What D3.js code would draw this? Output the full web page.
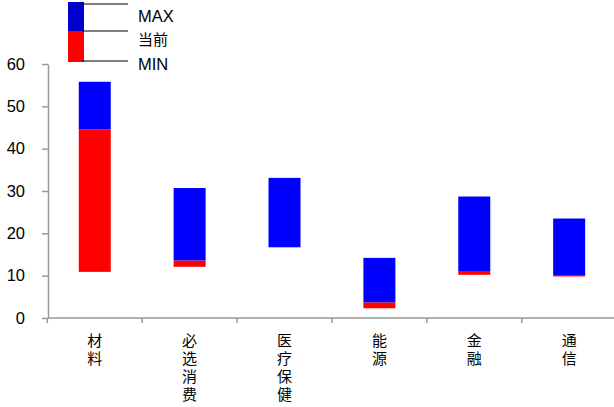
<!DOCTYPE html>
<html>
<head>
<meta charset="utf-8">
<script src="https://cdn.jsdelivr.net/npm/d3@7"></script>
<style>
  body { margin: 0; background: #fff; }
  svg { display: block; }
  .axis path, .axis line { stroke: #999; stroke-width: 1.5; }
  .axis text { font-family: "Liberation Sans", Arial, sans-serif; font-size: 16.5px; fill: #000; }
</style>
</head>
<body>
<svg id="root"></svg>
<script>
// Valuation range chart: min / current / max per sector

const categories = ["材料", "必选消费", "医疗保健", "能源", "金融", "通信"];
const minValues = [10.9, 12.1, 16.7, 2.3, 10.2, 9.8];
const curValues = [44.6, 13.6, 16.7, 3.7, 11.1, 10.0];
const maxValues = [55.8, 30.7, 33.1, 14.2, 28.7, 23.5];
const yTicks = [0, 10, 20, 30, 40, 50, 60];
const legendLabels = ["MAX", "当前", "MIN"];

const width = 614, height = 407;

const svg = d3.select("#root").attr("width", width).attr("height", height);

let xScale = d3.scaleBand(categories, [47.3, 616.6]).padding(0);
let yScale = d3.scaleLinear([0, 60], [318, 64]);

const barW = 32;

// Y axis
svg.append("g")
  .attr("class", "axis")
  .attr("transform", "translate(48,0)")
  .call(d3.axisLeft(yScale).tickValues(yTicks).tickSize(6).tickSizeOuter(0).tickPadding(17));

// X axis line + ticks at band boundaries
const xg = svg.append("g").attr("class", "axis");
xg.append("line")
  .attr("x1", 48).attr("x2", width)
  .attr("y1", yScale(0)).attr("y2", yScale(0));
xg.selectAll(".tick")
  .data(categories)
  .join("line")
  .attr("class", "tick")
  .attr("x1", (d) => xScale(d)).attr("x2", (d) => xScale(d))
  .attr("y1", yScale(0)).attr("y2", yScale(0) + 5);

// Vertical category labels
const labels = svg.append("g")
  .selectAll("text")
  .data(categories)
  .join("text")
  .attr("text-anchor", "middle")
  .attr("font-family", "'Noto Sans CJK SC', sans-serif")
  .attr("font-size", 15)
  .attr("fill", "#000");
labels.each(function (d) {
  const t = d3.select(this);
  const cx = xScale(d) + xScale.bandwidth() / 2;
  d.split("").forEach((ch, i) => {
    t.append("tspan").attr("x", cx).attr("y", 346 + i * 18).text(ch);
  });
});

// Bars: red from min to current, blue from current to max
const bars = svg.append("g");
bars.selectAll(".red")
  .data(categories)
  .join("rect")
  .attr("class", "red")
  .attr("x", (d) => xScale(d) + xScale.bandwidth() / 2 - barW / 2)
  .attr("width", barW)
  .attr("y", (d, i) => yScale(curValues[i]))
  .attr("height", (d, i) => yScale(minValues[i]) - yScale(curValues[i]))
  .attr("fill", "#ff0000");
bars.selectAll(".blue")
  .data(categories)
  .join("rect")
  .attr("class", "blue")
  .attr("x", (d) => xScale(d) + xScale.bandwidth() / 2 - barW / 2)
  .attr("width", barW)
  .attr("y", (d, i) => yScale(maxValues[i]))
  .attr("height", (d, i) => yScale(curValues[i]) - yScale(maxValues[i]))
  .attr("fill", "#0000ff");

// Legend
const legend = svg.append("g");
legend.append("rect").attr("x", 68).attr("y", 2).attr("width", 16).attr("height", 29).attr("fill", "#0000cc");
legend.append("rect").attr("x", 68).attr("y", 31).attr("width", 16).attr("height", 31).attr("fill", "#ff0000");
const legendY = [4, 31, 61];
legend.selectAll("line")
  .data(legendY)
  .join("line")
  .attr("x1", 82).attr("x2", 128)
  .attr("y1", (d) => d).attr("y2", (d) => d)
  .attr("stroke", "#000").attr("stroke-width", 1.2);
legend.selectAll("text")
  .data(legendLabels)
  .join("text")
  .attr("x", 138)
  .attr("y", (d, i) => [22, 45, 70][i])
  .attr("font-family", (d, i) => i === 1 ? "'Noto Sans CJK SC', sans-serif" : "'Liberation Sans', Arial, sans-serif")
  .attr("font-size", (d, i) => i === 1 ? 15 : 16.5)
  .attr("fill", "#000")
  .text((d) => d);
</script>
</body>
</html>
